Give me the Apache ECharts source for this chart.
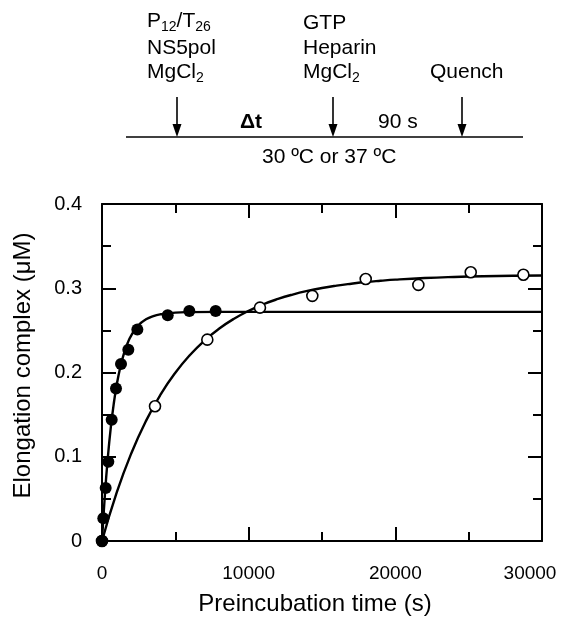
<!DOCTYPE html>
<html>
<head>
<meta charset="utf-8">
<script src="https://cdn.jsdelivr.net/npm/echarts@6/dist/echarts.min.js"></script>
<style>
html,body{margin:0;padding:0;background:#fff;}
#c{width:561px;height:617px;}
</style>
</head>
<body>
<div id="c"></div>
<script>
// Data
const filledTime  = [0, 90, 250, 430, 660, 955, 1295, 1795, 2410, 4480, 5955, 7750];
const filledValue = [0, 0.027, 0.063, 0.094, 0.144, 0.181, 0.210, 0.227, 0.251, 0.268, 0.273, 0.273];
const openTime  = [0, 3614, 7180, 10770, 14340, 17980, 21570, 25140, 28730];
const openValue = [0, 0.160, 0.239, 0.277, 0.291, 0.311, 0.304, 0.319, 0.316];
// Fitted curves
const fitFilledTime  = [0, 200, 400, 600, 800, 1000, 1250, 1500, 1750, 2000, 2500, 3000, 3500, 4000, 5000, 6000, 8000, 12000, 20000, 30000];
const fitFilledValue = [0, 0.0555, 0.0996, 0.1348, 0.1627, 0.1850, 0.2066, 0.2228, 0.2350, 0.2442, 0.2563, 0.2631, 0.2670, 0.2691, 0.2711, 0.2717, 0.2720, 0.2720, 0.2720, 0.2720];
const fitOpenTime  = [0, 1000, 2000, 3000, 4000, 5000, 6000, 7000, 8000, 9000, 10000, 11000, 12000, 13000, 14000, 15000, 16000, 17000, 18000, 19000, 20000, 22000, 24000, 26000, 28000, 30000];
const fitOpenValue = [0, 0.0573, 0.1042, 0.1426, 0.1740, 0.1997, 0.2208, 0.2381, 0.2522, 0.2638, 0.2732, 0.2810, 0.2873, 0.2925, 0.2968, 0.3003, 0.3031, 0.3054, 0.3074, 0.3089, 0.3102, 0.3121, 0.3134, 0.3143, 0.3148, 0.3152];
const xTicks = [0, 10000, 20000, 30000];
const yTicks = [0, 0.1, 0.2, 0.3, 0.4];

const pair = (xs, ys) => xs.map((x, i) => [x, ys[i]]);
const FONT = '"Liberation Sans", Arial, sans-serif';

const chart = echarts.init(document.getElementById('c'), null, {renderer: 'canvas'});

const axisCommon = {
  axisLine: {onZero: false, lineStyle: {color: '#000', width: 2}},
  axisTick: {inside: true, length: 14, lineStyle: {color: '#000', width: 2}},
  minorTick: {show: true, splitNumber: 2, length: 9, lineStyle: {color: '#000', width: 2}},
  splitLine: {show: false}
};

const schematicText = (x, y, text, extra) => Object.assign({
  type: 'text', left: x, top: y,
  style: {text: text, font: '21px ' + FONT, fill: '#000',
    rich: {sub: {fontSize: 14, fontFamily: FONT, padding: [12, 0, 0, 0]}}}
}, extra || {});

const arrow = (x) => ([
  {type: 'line', shape: {x1: x, y1: 97, x2: x, y2: 130}, style: {stroke: '#000', lineWidth: 1.6}},
  {type: 'polygon', shape: {points: [[x - 4.5, 124], [x + 4.5, 124], [x, 137]]}, style: {fill: '#000'}}
]);

chart.setOption({
  animation: false,
  backgroundColor: '#fff',
  grid: {left: 102, right: 19, top: 204, bottom: 76, containLabel: false, outerBoundsMode: 'none'},
  xAxis: [
    Object.assign({}, axisCommon, {
      type: 'value', min: 0, max: 30000, interval: 10000, position: 'bottom',
      name: 'Preincubation time (s)', nameLocation: 'middle', nameGap: 51,
      nameTextStyle: {fontFamily: FONT, fontSize: 24, color: '#000', padding: [0, 14, 0, 0]},
      axisLabel: {fontFamily: FONT, fontSize: 19, color: '#000', margin: 23,
        rich: {last: {fontFamily: FONT, fontSize: 19, color: '#000', padding: [0, 24, 0, 0]}},
        formatter: v => {
          if (!xTicks.includes(v)) return '';
          return v === xTicks[xTicks.length - 1] ? '{last|' + v + '}' : String(v);
        }}
    }),
    Object.assign({}, axisCommon, {
      type: 'value', min: 0, max: 30000, interval: 10000, position: 'top',
      axisLabel: {show: false}
    })
  ],
  yAxis: [
    Object.assign({}, axisCommon, {
      type: 'value', min: 0, max: 0.4, interval: 0.1, position: 'left',
      name: 'Elongation complex (\u03bcM)', nameLocation: 'middle', nameGap: 67,
      nameTextStyle: {fontFamily: FONT, fontSize: 24, color: '#000', padding: [0, 0, 0, 14]},
      axisLabel: {fontFamily: FONT, fontSize: 20, color: '#000', margin: 20,
        formatter: v => {
          const t = yTicks.find(k => Math.abs(k - v) < 1e-9);
          if (t === undefined) return '';
          return t === 0 ? '0' : t.toFixed(1);
        }}
    }),
    Object.assign({}, axisCommon, {
      type: 'value', min: 0, max: 0.4, interval: 0.1, position: 'right',
      axisLabel: {show: false}
    })
  ],
  series: [
    {type: 'line', data: pair(fitOpenTime, fitOpenValue), smooth: true,
      symbol: 'none', lineStyle: {color: '#000', width: 2.4}, z: 2},
    {type: 'line', data: pair(fitFilledTime, fitFilledValue), smooth: true,
      symbol: 'none', lineStyle: {color: '#000', width: 2.4}, z: 2},
    {type: 'scatter', data: pair(openTime, openValue), symbol: 'circle', symbolSize: 11,
      itemStyle: {color: '#fff', borderColor: '#000', borderWidth: 1.6, opacity: 1}, z: 3},
    {type: 'scatter', data: pair(filledTime, filledValue), symbol: 'circle', symbolSize: 12,
      itemStyle: {color: '#000', borderColor: '#000', borderWidth: 0, opacity: 1}, z: 4}
  ],
  graphic: [
    {type: 'line', shape: {x1: 126, y1: 137, x2: 523, y2: 137}, style: {stroke: '#000', lineWidth: 1.6}},
    ...arrow(177), ...arrow(333), ...arrow(462),
    schematicText(147, 11, 'P{sub|12}/T{sub|26}'),
    schematicText(147, 38, 'NS5pol'),
    schematicText(147, 62, 'MgCl{sub|2}'),
    schematicText(303, 13, 'GTP'),
    schematicText(303, 38, 'Heparin'),
    schematicText(303, 62, 'MgCl{sub|2}'),
    schematicText(430, 62, 'Quench'),
    {type: 'text', left: 240, top: 112, style: {text: '\u0394t', font: 'bold 21px ' + FONT, fill: '#000'}},
    schematicText(378, 112, '90 s'),
    {type: 'text', left: 262, top: 147, style: {text: '30 \u00baC or 37 \u00baC', font: '21px ' + FONT, fill: '#000'}}
  ]
});
</script>
</body>
</html>
